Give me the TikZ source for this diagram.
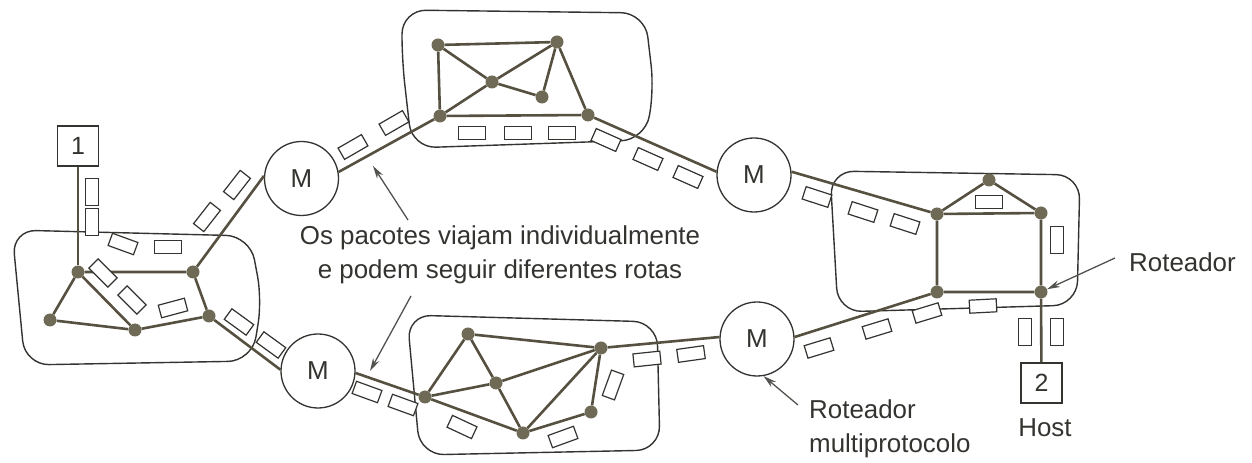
\documentclass[tikz,border=0pt]{standalone}
\usepackage{fontspec}
\setmainfont{Liberation Sans}
\usetikzlibrary{arrows.meta}
\definecolor{edgec}{HTML}{555040}
\definecolor{dotc}{HTML}{6F6A55}
\definecolor{inkc}{HTML}{333330}
\tikzset{
  link/.style={draw=edgec, line width=2.6bp},
  dot/.style={circle, fill=dotc, inner sep=0pt, minimum size=13bp},
  pk/.style={draw=inkc, fill=white, line width=1.2bp, inner sep=0pt, minimum width=27bp, minimum height=13bp},
  mrouter/.style={circle, draw=inkc, fill=white, line width=1.3bp, minimum size=74bp, inner sep=0pt, font=\fontsize{26}{30}\selectfont, text=inkc},
  hostbox/.style={draw=inkc, fill=white, line width=1.3bp, minimum width=41bp, minimum height=40bp, inner sep=0pt, font=\fontsize{25}{28}\selectfont, text=inkc},
  cloudline/.style={draw=inkc, line width=1.4bp, rounded corners=24bp},
  lbl/.style={text=inkc, font=\fontsize{26}{34}\selectfont, inner sep=0pt},
  pointer/.style={draw=inkc!85, line width=1.3bp, -{Stealth[length=13bp,width=7bp]}}
}
\begin{document}
\begin{tikzpicture}[x=1bp, y=-1bp]
\useasboundingbox (0,0) rectangle (1252,463);
% clouds
\draw[cloudline] (12,230) -- (250,236) -- (262,300) -- (252,361) -- (25,365) -- cycle;
\draw[cloudline] (402,10) -- (645,13) -- (654,90) -- (645,140) -- (412,148) -- (402,60) -- cycle;
\draw[cloudline] (830,171) -- (1080,175) -- (1077,305) -- (838,312) -- cycle;
\draw[cloudline] (407,315) -- (657,322) -- (660,450) -- (420,455) -- cycle;

% routers (dots)
\node[dot] (la) at (78,272) {};
\node[dot] (lb) at (193,272) {};
\node[dot] (lc) at (50,320) {};
\node[dot] (ld) at (135,330) {};
\node[dot] (le) at (209,316) {};
\node[dot] (t1) at (438,45) {};
\node[dot] (t2) at (557,42) {};
\node[dot] (t3) at (492,82) {};
\node[dot] (t4) at (542,97) {};
\node[dot] (t5) at (440,116) {};
\node[dot] (t6) at (588,115) {};
\node[dot] (r1) at (937,214) {};
\node[dot] (r2) at (989,180) {};
\node[dot] (r3) at (1041,213) {};
\node[dot] (r4) at (937,292) {};
\node[dot] (r5) at (1041,292) {};
\node[dot] (b1) at (425,397) {};
\node[dot] (b2) at (468,334) {};
\node[dot] (b3) at (496,383) {};
\node[dot] (b4) at (601,348) {};
\node[dot] (b5) at (523,433) {};
\node[dot] (b6) at (591,412) {};

% multiprotocol routers and hosts
\node[mrouter] (m1) at (301.5,178.5) {M};
\node[mrouter] (m2) at (318,371) {M};
\node[mrouter] (m3) at (754,175) {M};
\node[mrouter] (m4) at (757,339) {M};
\node[hostbox] (h1) at (78,146) {1};
\node[hostbox] (h2) at (1041.5,383) {2};

% links
\draw[link] (h1) -- (la);
\draw[link] (la) -- (lb) (la) -- (lc) (la) -- (ld) (lc) -- (ld) (ld) -- (le) (lb) -- (le);
\draw[link] (lb) -- (m1.176);
\draw[link] (le) -- (m2.178);
\draw[link] (m1.10) -- (t5);
\draw[link] (t1) -- (t2) (t1) -- (t5) (t1) -- (t3) (t5) -- (t3) (t3) -- (t2) (t3) -- (t4) (t4) -- (t2) (t2) -- (t6) (t5) -- (t6);
\draw[link] (t6) -- (m3.175);
\draw[link] (m3.5) -- (r1);
\draw[link] (r1) -- (r2) (r2) -- (r3) (r1) -- (r3) (r1) -- (r4) (r3) -- (r5) (r4) -- (r5);
\draw[link] (r5) -- (h2);
\draw[link] (m2.-3) -- (b1);
\draw[link] (b1) -- (b2) (b2) -- (b3) (b2) -- (b4) (b1) -- (b3) (b3) -- (b4) (b3) -- (b5) (b1) -- (b5) (b5) -- (b4) (b5) -- (b6) (b6) -- (b4);
\draw[link] (b4) -- (m4.177);
\draw[link] (m4.3) -- (r4);

% packets
\node[pk, rotate=90] (p1) at (92,192) {};
\node[pk, rotate=90] (p2) at (92,222) {};
\node[pk, rotate=-20] (p3) at (123,244) {};
\node[pk] (p4) at (168,247) {};
\node[pk, rotate=-45] (p5) at (103,273) {};
\node[pk, rotate=-45] (p6) at (132,300) {};
\node[pk, rotate=15] (p7) at (173,308) {};
\node[pk, rotate=52] (p8) at (207,217) {};
\node[pk, rotate=52] (p9) at (237,185) {};
\node[pk, rotate=-36] (p10) at (239,322) {};
\node[pk, rotate=-36] (p11) at (271,345) {};
\node[pk, rotate=-20] (p12) at (367,392) {};
\node[pk, rotate=-20] (p13) at (403,405) {};
\node[pk, rotate=-25] (p14) at (462,427) {};
\node[pk, rotate=20] (p15) at (563,437) {};
\node[pk, rotate=70] (p16) at (613,385) {};
\node[pk, rotate=6] (p17) at (647,359) {};
\node[pk, rotate=8] (p18) at (691,354) {};
\node[pk, rotate=30] (p19) at (353,147) {};
\node[pk, rotate=30] (p20) at (394,123) {};
\node[pk] (p21) at (472,133) {};
\node[pk] (p22) at (518,133) {};
\node[pk] (p23) at (562,133) {};
\node[pk, rotate=-24] (p24) at (606,140) {};
\node[pk, rotate=-24] (p25) at (648,159) {};
\node[pk, rotate=-24] (p26) at (688,177) {};
\node[pk, rotate=-18] (p27) at (817,197) {};
\node[pk, rotate=-18] (p28) at (863,212) {};
\node[pk, rotate=-18] (p29) at (905,224) {};
\node[pk] (p30) at (989,202) {};
\node[pk, rotate=90] (p31) at (1057,240) {};
\node[pk, rotate=90] (p32) at (1025,332) {};
\node[pk, rotate=90] (p33) at (1057,332) {};
\node[pk, rotate=17] (p34) at (819,348) {};
\node[pk, rotate=17] (p35) at (877,329) {};
\node[pk, rotate=17] (p36) at (927,313) {};
\node[pk, rotate=3] (p37) at (983,306) {};

% labels
\node[lbl, align=center] (txt) at (500,255) {Os pacotes viajam individualmente\\e podem seguir diferentes rotas};
\node[lbl, anchor=west] (rot) at (1129,262) {Roteador};
\node[lbl, anchor=west, align=left] (mrot) at (809,429) {Roteador\\multiprotocolo};
\node[lbl] (host) at (1045,428) {Host};

% pointers
\coordinate (a1t) at (408,220);
\coordinate (a1h) at (373,166);
\coordinate (a2t) at (411,296);
\coordinate (a2h) at (370,371);
\coordinate (a3t) at (1115,258);
\coordinate (a4t) at (798,405);
\draw[pointer] (a1t) -- (a1h);
\draw[pointer] (a2t) -- (a2h);
\draw[pointer] (a3t) -- (r5);
\draw[pointer] (a4t) -- (m4.-80);
\end{tikzpicture}
\end{document}
